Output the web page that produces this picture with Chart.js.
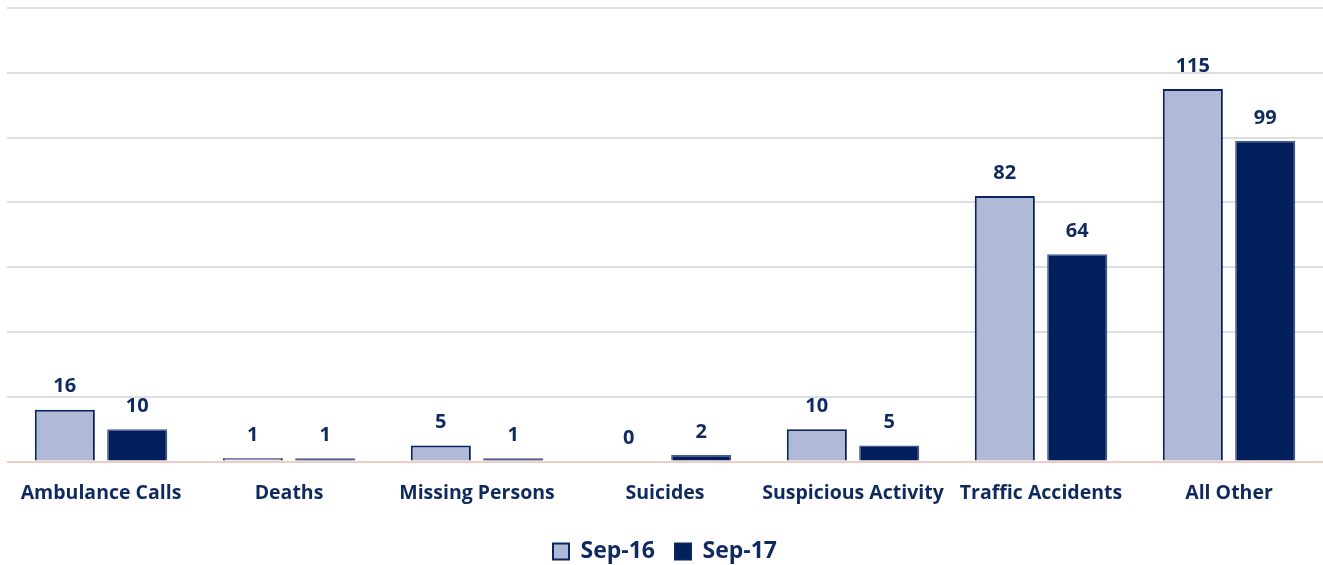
<!DOCTYPE html>
<html>
<head>
<meta charset="utf-8">
<script src="https://cdn.jsdelivr.net/npm/chart.js@4/dist/chart.umd.min.js"></script>
<style>
  html, body { margin: 0; padding: 0; background: #fff; }
  #wrap { width: 1323px; height: 565px; }
</style>
</head>
<body>
<div id="wrap"><canvas id="myChart"></canvas></div>
<script>
// data
var categories = ["Ambulance Calls", "Deaths", "Missing Persons", "Suicides", "Suspicious Activity", "Traffic Accidents", "All Other"];
var sep16 = [16, 1, 5, 0, 10, 82, 115];
var sep17 = [10, 1, 1, 2, 5, 64, 99];
var seriesNames = ["Sep-16", "Sep-17"];

var navy = "#0f2a5e";
var font = "'Open Sans'";

// value labels over the bars
var valueLabels = {
  id: "valueLabels",
  afterDatasetsDraw: function(chart) {
    var ctx = chart.ctx;
    ctx.save();
    ctx.font = "bold 20px " + font;
    ctx.fillStyle = navy;
    ctx.textAlign = "center";
    ctx.textBaseline = "bottom";
    chart.data.datasets.forEach(function(ds, i) {
      chart.getDatasetMeta(i).data.forEach(function(bar, j) {
        ctx.fillText(ds.data[j], bar.x, bar.y - 13);
      });
    });
    ctx.restore();
  }
};

// soft shadow behind the bars
var barShadow = {
  id: "barShadow",
  beforeDatasetsDraw: function(chart) {
    var ctx = chart.ctx;
    ctx.save();
    ctx.shadowColor = "rgba(0,0,0,0.18)";
    ctx.shadowBlur = 4;
    ctx.shadowOffsetX = 1;
    ctx.shadowOffsetY = 1;
  },
  afterDatasetsDraw: function(chart) {
    chart.ctx.restore();
  }
};

new Chart("myChart", {
  type: "bar",
  data: {
    labels: categories,
    datasets: [{
      label: seriesNames[0],
      data: sep16,
      backgroundColor: "#b0b9d6",
      borderColor: "#0b2560",
      borderWidth: 2,
      barPercentage: 0.83,
      categoryPercentage: 0.77
    }, {
      label: seriesNames[1],
      data: sep17,
      backgroundColor: "#001f5c",
      borderColor: "#4a5f94",
      borderWidth: 1.5,
      barPercentage: 0.83,
      categoryPercentage: 0.77
    }]
  },
  options: {
    responsive: true,
    maintainAspectRatio: false,
    animation: false,
    layout: { padding: { left: 7, right: 0, top: 8, bottom: -8 } },
    plugins: {
      legend: {
        position: "bottom",
        labels: {
          color: navy,
          font: { family: font, size: 23, weight: "bold" },
          boxWidth: 16,
          boxHeight: 16,
          padding: 20,
          generateLabels: function(chart) {
            return chart.data.datasets.map(function(ds, i) {
              return {
                text: ds.label,
                fillStyle: ds.backgroundColor,
                strokeStyle: "#0b2560",
                lineWidth: 2,
                fontColor: navy,
                datasetIndex: i
              };
            });
          }
        }
      },
      tooltip: { enabled: false }
    },
    scales: {
      x: {
        grid: { display: false },
        border: { display: false },
        afterFit: function(scale) { scale.height += 3; },
        ticks: {
          color: navy,
          font: { family: font, size: 19.5, weight: "bold" },
          padding: 12,
          maxRotation: 0,
          autoSkip: false
        }
      },
      y: {
        min: 0,
        max: 140,
        ticks: { display: false, stepSize: 20 },
        border: { display: false },
        grid: {
          drawTicks: false,
          lineWidth: 2,
          color: function(c) { return c.tick.value === 0 ? "#f2cdc5" : "#dedede"; }
        }
      }
    }
  },
  plugins: [barShadow, valueLabels]
});
</script>
</body>
</html>
